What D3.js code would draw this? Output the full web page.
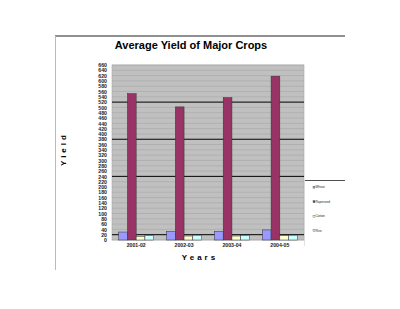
<!DOCTYPE html>
<html>
<head>
<meta charset="utf-8">
<script src="https://cdn.jsdelivr.net/npm/d3@7"></script>
<style>
  body { margin: 0; background: #fff; }
  text { font-family: "Liberation Sans", Arial, sans-serif; }
</style>
</head>
<body>
<div id="chart-area"></div>
<script>

// chart data
var years = ["2001-02", "2002-03", "2003-04", "2004-05"];
var crops = ["Wheat", "Rapeseed", "Cotton", "Rice"];
var wheat = [30, 33, 33, 38];
var rapeseed = [552, 502, 537, 618];
var cotton = [14, 15, 15, 16];
var rice = [17, 18, 17, 18];
var yTicks = d3.range(0, 661, 20);
var darkLines = [20, 240, 380, 520];

var colors = ["#9999ff", "#993366", "#ffffcc", "#ccffff"];
var series = [wheat, rapeseed, cotton, rice];

var svg = d3.select("#chart-area")
    .append("svg")
        .attr("width", 400)
        .attr("height", 309);

// frame lines
svg.append("line")
    .attr("x1", 55).attr("x2", 345).attr("y1", 36).attr("y2", 36)
    .attr("stroke", "#222").attr("stroke-width", 1);
svg.append("line")
    .attr("x1", 55.5).attr("x2", 55.5).attr("y1", 36).attr("y2", 270)
    .attr("stroke", "#bbb").attr("stroke-width", 1);

var pLeft = 112, pRight = 304, pTop = 65, pBottom = 240;

var y = d3.scaleLinear().domain([0, 660]).range([pBottom, pTop]);
var x0 = d3.scaleBand().domain(years).range([pLeft, pRight])
    .paddingInner(0.27).paddingOuter(0.14);
var x1 = d3.scaleBand().domain(crops).range([0, x0.bandwidth()]);

// plot area
svg.append("rect")
    .attr("x", pLeft).attr("y", pTop)
    .attr("width", pRight - pLeft).attr("height", pBottom - pTop)
    .attr("fill", "#c0c0c0")
    .attr("stroke", "#a8a8a8").attr("stroke-width", 0.6);

svg.selectAll(".grid")
    .data(yTicks)
    .enter()
    .append("line")
        .attr("x1", pLeft).attr("x2", pRight)
        .attr("y1", (d) => y(d)).attr("y2", (d) => y(d))
        .attr("stroke", (d) => darkLines.indexOf(d) >= 0 ? "#000" : "#a6a6a6")
        .attr("stroke-width", (d) => darkLines.indexOf(d) >= 0 ? 1 : 0.6);

// y axis labels
var yAxis = d3.axisLeft(y).tickValues(yTicks).tickSize(0).tickPadding(5);
var ya = svg.append("g")
    .attr("transform", "translate(" + pLeft + ",0)")
    .call(yAxis);
ya.select(".domain").remove();
ya.selectAll("text")
    .attr("font-size", 5.2)
    .attr("font-weight", "bold")
    .attr("fill", "#222");

// x axis labels
var xAxis = d3.axisBottom(x0).tickSize(0).tickPadding(3);
var xa = svg.append("g")
    .attr("transform", "translate(0," + pBottom + ")")
    .call(xAxis);
xa.select(".domain").remove();
xa.selectAll("text")
    .attr("font-size", 5.2)
    .attr("font-weight", "bold")
    .attr("fill", "#222");

// bars
var groups = svg.selectAll(".year")
    .data(years)
    .enter()
    .append("g")
        .attr("transform", (d) => "translate(" + x0(d) + ",0)");

groups.selectAll("rect")
    .data((d, i) => crops.map((c, j) => ({crop: c, value: series[j][i], k: j})))
    .enter()
    .append("rect")
        .attr("x", (d) => x1(d.crop))
        .attr("y", (d) => y(d.value))
        .attr("width", x1.bandwidth())
        .attr("height", (d) => pBottom - y(d.value))
        .attr("fill", (d) => colors[d.k])
        .attr("stroke", "#333")
        .attr("stroke-width", 0.5);

// titles
svg.append("text")
    .attr("x", 191).attr("y", 49)
    .attr("text-anchor", "middle")
    .attr("font-size", 11)
    .attr("font-weight", "bold")
    .text("Average Yield of Major Crops");

svg.append("text")
    .attr("x", 200).attr("y", 260)
    .attr("text-anchor", "middle")
    .attr("font-size", 8)
    .attr("font-weight", "bold")
    .attr("letter-spacing", 3)
    .text("Years");

svg.append("text")
    .attr("transform", "translate(66,149) rotate(-90)")
    .attr("text-anchor", "middle")
    .attr("font-size", 8)
    .attr("font-weight", "bold")
    .attr("letter-spacing", 3)
    .text("Yield");

// legend
svg.append("line")
    .attr("x1", 305).attr("x2", 345).attr("y1", 180.5).attr("y2", 180.5)
    .attr("stroke", "#222").attr("stroke-width", 0.8);
svg.append("line")
    .attr("x1", 304.5).attr("x2", 304.5).attr("y1", 180).attr("y2", 246)
    .attr("stroke", "#ccc").attr("stroke-width", 0.6);

var legend = svg.selectAll(".legend")
    .data(crops)
    .enter()
    .append("g")
        .attr("transform", (d, i) => "translate(313," + (188 + i * 14.5) + ")");

legend.append("rect")
    .attr("x", 0).attr("y", -1.8)
    .attr("width", 2).attr("height", 2)
    .attr("fill", (d, i) => colors[i])
    .attr("stroke", "#333").attr("stroke-width", 0.3);

legend.append("text")
    .attr("x", 2.5).attr("y", 0.2)
    .attr("font-size", 3.2)
    .attr("fill", "#222")
    .text((d) => d);

</script>
</body>
</html>
